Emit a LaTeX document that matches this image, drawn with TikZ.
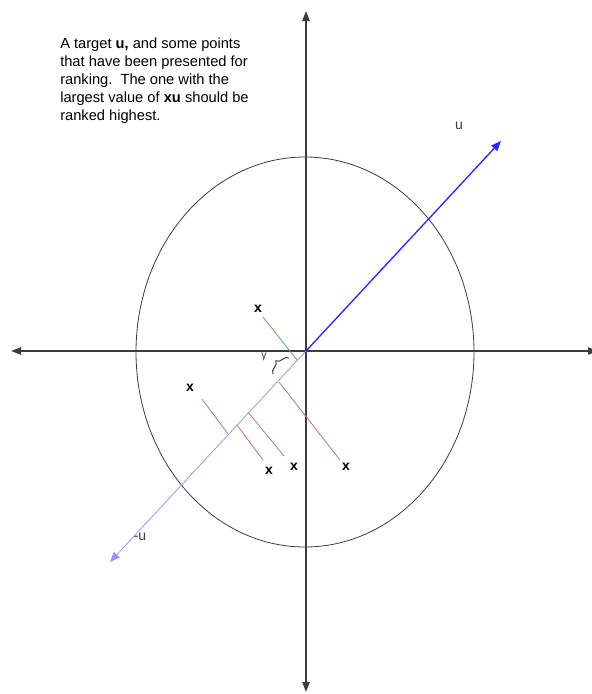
\documentclass[tikz,border=0pt]{standalone}
\usepackage{fontspec}
\setmainfont{Liberation Sans}
\usetikzlibrary{arrows.meta, decorations.pathreplacing}
\definecolor{AxisGray}{RGB}{60, 60, 60}
\definecolor{VecBlue}{RGB}{40, 40, 255}
\definecolor{PaleBlue}{RGB}{150, 150, 255}
\definecolor{ProjMauve}{RGB}{180, 115, 145}
\definecolor{ProjGreen}{RGB}{90, 170, 90}

\begin{document}
\begin{tikzpicture}[x=0.75pt, y=-0.75pt,
        axis/.style={draw=AxisGray, line width=1pt, -{Triangle[length=7.5pt, width=5.5pt]}},
        vec/.style={line width=1pt, -{Triangle[length=7.5pt, width=6pt]}},
        proj/.style={draw=ProjMauve, line width=0.6pt},
        point/.style={font=\bfseries\fontsize{10.5}{12}\selectfont, inner sep=0},
        lbl/.style={font=\fontsize{10.5}{12}\selectfont, text=AxisGray, inner sep=0}]
        \useasboundingbox (0,0) rectangle (592,694);
        % axes and circle
        \coordinate (O) at (306,351);
        \coordinate (top) at (306,11);
        \coordinate (bottom) at (306,692);
        \coordinate (left) at (11,351);
        \coordinate (right) at (598,351);
        \draw[axis] (O) -- (top);
        \draw[axis] (O) -- (bottom);
        \draw[axis] (O) -- (left);
        \draw[axis] (O) -- (right);
        \draw[AxisGray, line width=0.6pt] (305,352) ellipse [x radius=169, y radius=195];
        % target u and -u
        \coordinate (utip) at (501,141);
        \coordinate (mtip) at (110,562);
        \draw[vec, VecBlue] (O) -- (utip);
        \draw[vec, PaleBlue, line width=0.6pt] (O) -- (mtip);
        \node[lbl] (u) at (459,126) {u};
        \node[lbl] (mu) at (140,537) {-u};
        % points
        \node[point] (x1) at (258,309) {x};
        \node[point] (x2) at (190,388) {x};
        \node[point] (x3) at (269,471) {x};
        \node[point] (x4) at (294,467) {x};
        \node[point] (x5) at (346,467) {x};
        % projections onto -u
        \coordinate (g1) at (263,317);
        \coordinate (f1) at (297,360);
        \draw[ProjGreen, line width=0.6pt] (g1) -- (f1);
        \coordinate (a2) at (202,399);
        \coordinate (f2) at (228,434);
        \draw[proj] (a2) -- (f2);
        \coordinate (f3) at (237,425);
        \coordinate (a3) at (263,460);
        \draw[proj] (f3) -- (a3);
        \coordinate (f4) at (248,412);
        \coordinate (a4) at (284,456);
        \draw[proj] (f4) -- (a4);
        \coordinate (f5) at (279,382);
        \coordinate (a5) at (340,460);
        \draw[proj] (f5) -- (a5);
        % margin
        \coordinate (b1) at (273,374);
        \coordinate (b2) at (289,358);
        \draw[AxisGray, line width=0.75pt, decorate, decoration={brace, amplitude=5.5}] (b1) -- (b2);
        \node[lbl, font=\fontsize{8}{9}\selectfont] (gamma) at (264,357) {γ};
        % caption
        \node[anchor=north west, align=left, inner sep=0, font=\fontsize{11}{13.5}\selectfont] (note) at (60,38)
            {A target \textbf{u,} and some points\\that have been presented for\\ranking.\ \ The one with the\\largest value of \textbf{xu} should be\\ranked highest.};
    \end{tikzpicture}
\end{document}
